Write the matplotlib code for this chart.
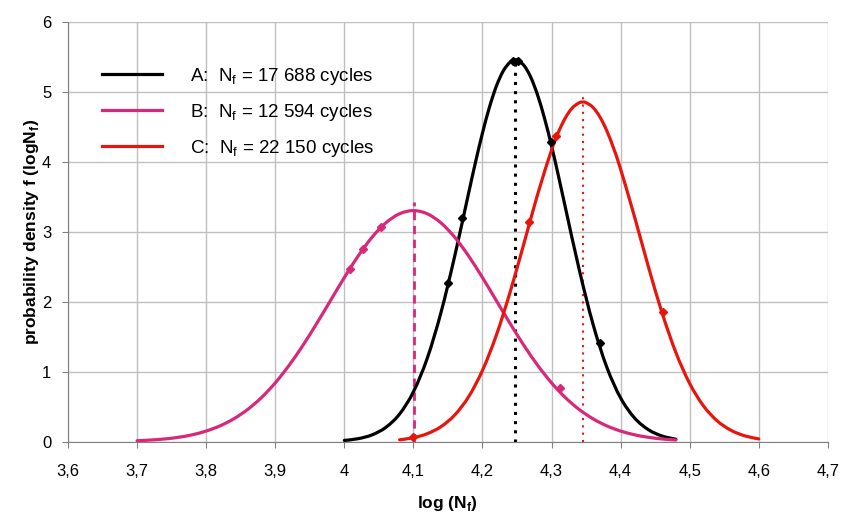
import matplotlib
matplotlib.use("Agg")
import matplotlib.pyplot as plt
from matplotlib.path import Path
from matplotlib.patches import PathPatch

plt.rcParams['font.family'] = ['Liberation Sans', 'DejaVu Sans']
plt.rcParams['mathtext.fontset'] = 'custom'
plt.rcParams['mathtext.rm'] = 'Liberation Sans'
plt.rcParams['mathtext.bf'] = 'Liberation Sans:bold'

# curve A: Nf = 17 688 cycles
xa = [4.00, 4.02, 4.04, 4.06, 4.08, 4.10, 4.12, 4.14, 4.16, 4.18, 4.19, 4.20,
      4.21, 4.22, 4.23, 4.24, 4.248, 4.25, 4.26, 4.27, 4.28, 4.29, 4.30, 4.31,
      4.32, 4.34, 4.36, 4.38, 4.40, 4.42, 4.44, 4.46, 4.48]
ya = [0.018, 0.043, 0.097, 0.204, 0.395, 0.712, 1.190, 1.847, 2.658, 3.553, 3.994, 4.407,
      4.773, 5.074, 5.293, 5.420, 5.450, 5.447, 5.374, 5.203, 4.944, 4.612, 4.224, 3.795,
      3.346, 2.461, 1.680, 1.065, 0.625, 0.341, 0.173, 0.081, 0.035]

# curve B: Nf = 12 594 cycles
xb = [3.70, 3.72, 3.74, 3.76, 3.78, 3.80, 3.82, 3.84, 3.86, 3.88, 3.90, 3.92,
      3.94, 3.96, 3.98, 4.00, 4.02, 4.04, 4.06, 4.08, 4.10, 4.12, 4.14, 4.16,
      4.18, 4.20, 4.22, 4.24, 4.26, 4.28, 4.30, 4.32, 4.34, 4.36, 4.38, 4.40,
      4.42, 4.44, 4.46, 4.48]
yb = [0.014, 0.024, 0.039, 0.063, 0.099, 0.152, 0.226, 0.327, 0.460, 0.630, 0.840, 1.090,
      1.375, 1.688, 2.016, 2.344, 2.651, 2.918, 3.124, 3.255, 3.300, 3.255, 3.124, 2.918,
      2.651, 2.344, 2.016, 1.688, 1.375, 1.090, 0.840, 0.630, 0.460, 0.327, 0.226, 0.152,
      0.099, 0.063, 0.039, 0.024]

# curve C: Nf = 22 150 cycles
xc = [4.08, 4.10, 4.12, 4.14, 4.16, 4.18, 4.20, 4.22, 4.24, 4.26, 4.28, 4.30,
      4.31, 4.32, 4.33, 4.34, 4.345, 4.35, 4.36, 4.37, 4.38, 4.39, 4.40, 4.42,
      4.44, 4.46, 4.48, 4.50, 4.52, 4.54, 4.56, 4.58, 4.60]
yc = [0.027, 0.057, 0.114, 0.215, 0.383, 0.643, 1.018, 1.519, 2.136, 2.829, 3.537, 4.165,
      4.421, 4.624, 4.766, 4.840, 4.850, 4.842, 4.774, 4.638, 4.440, 4.186, 3.892, 3.217,
      2.507, 1.841, 1.274, 0.831, 0.511, 0.296, 0.162, 0.083, 0.040]

# test points marked on the curves
pa_x = [4.150, 4.170, 4.244, 4.252, 4.299, 4.370]
pa_y = [2.27, 3.19, 5.44, 5.44, 4.28, 1.41]
pb_x = [4.008, 4.027, 4.053, 4.312]
pb_y = [2.47, 2.75, 3.06, 0.76]
pc_x = [4.100, 4.268, 4.307, 4.461]
pc_y = [0.06, 3.14, 4.36, 1.85]

# mean lines
mean_x = [4.2477, 4.1002, 4.3454]
mean_top = [5.45, 3.42, 4.97]

labels = ['A:  N$_\\mathregular{f}$ = 17 688 cycles',
          'B:  N$_\\mathregular{f}$ = 12 594 cycles',
          'C:  N$_\\mathregular{f}$ = 22 150 cycles']
colors = ['black', '#d8287a', '#e8150c']


def smooth_line(ax, xs, ys, color, label):
    # excel-like smoothed line: catmull-rom segments as cubic beziers
    n = len(xs)
    verts = [(xs[0], ys[0])]
    codes = [Path.MOVETO]
    for i in range(n - 1):
        a = max(i - 1, 0)
        d = min(i + 2, n - 1)
        c1 = (xs[i] + (xs[i + 1] - xs[a]) / 6, ys[i] + (ys[i + 1] - ys[a]) / 6)
        c2 = (xs[i + 1] - (xs[d] - xs[i]) / 6, ys[i + 1] - (ys[d] - ys[i]) / 6)
        verts += [c1, c2, (xs[i + 1], ys[i + 1])]
        codes += [Path.CURVE4] * 3
    ax.add_patch(PathPatch(Path(verts, codes), fill=False, edgecolor=color,
                           lw=2.3, capstyle='round', zorder=3))
    ax.plot([], [], color=color, lw=2.3, label=label)


fig = plt.figure(figsize=(8.43, 5.13), dpi=100)
ax = fig.add_axes([0.0807, 0.139, 0.9013, 0.819])

ax.vlines(mean_x[0], 0, mean_top[0], color=colors[0], lw=2.2, linestyles=(0, (1, 2)), zorder=2)
ax.vlines(mean_x[1], 0, mean_top[1], color=colors[1], lw=2, linestyles=(0, (3, 2)), zorder=2)
ax.vlines(mean_x[2], 0, mean_top[2], color=colors[2], lw=1.5, linestyles=(0, (1, 2.5)), zorder=2)

smooth_line(ax, xa, ya, colors[0], labels[0])
smooth_line(ax, xb, yb, colors[1], labels[1])
smooth_line(ax, xc, yc, colors[2], labels[2])

ax.plot(pa_x, pa_y, 'D', color=colors[0], ms=4, zorder=4)
ax.plot(pb_x, pb_y, 'D', color=colors[1], ms=4, zorder=4)
ax.plot(pc_x, pc_y, 'D', color=colors[2], ms=4, zorder=4)

ax.set_xlim(3.6, 4.7)
ax.set_ylim(0, 6)
xt = [3.6, 3.7, 3.8, 3.9, 4.0, 4.1, 4.2, 4.3, 4.4, 4.5, 4.6, 4.7]
ax.set_xticks(xt)
ax.set_xticklabels([('%g' % v).replace('.', ',') for v in xt])
ax.set_yticks(range(7))
ax.tick_params(labelsize=12, length=4, color='#808080')
ax.tick_params(axis='x', pad=12)
ax.tick_params(axis='y', pad=8)
ax.grid(True, color='#c0c0c0', lw=1)
ax.set_axisbelow(True)
for s in ['top', 'right']:
    ax.spines[s].set_visible(False)
for s in ['left', 'bottom']:
    ax.spines[s].set_color('#808080')

ax.set_xlabel('log (N$_\\mathbf{f}$)', fontsize=12.5, fontweight='bold', labelpad=11)
ax.set_ylabel('probability density f (logN$_\\mathbf{f}$)', fontsize=12.5, fontweight='bold', labelpad=1)

ax.legend(loc='upper left', bbox_to_anchor=(0.0225, 0.935), frameon=False, fontsize=13.5,
          handlelength=3.2, handletextpad=1.5, labelspacing=0.8)

fig.savefig('out.png', dpi=100)
